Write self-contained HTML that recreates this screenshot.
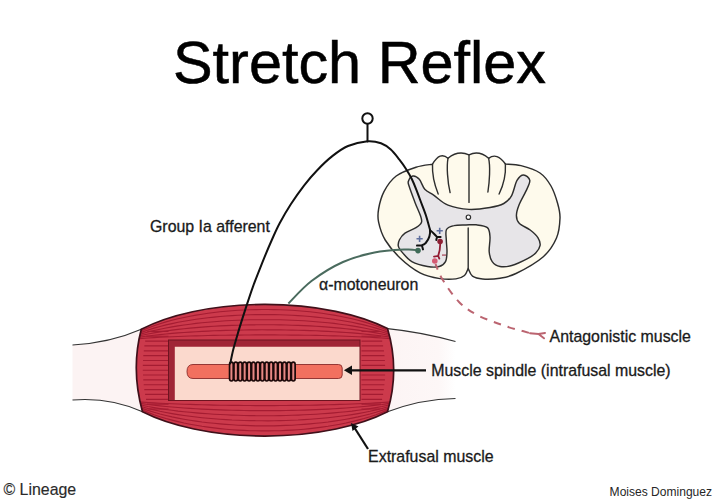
<!DOCTYPE html>
<html><head><meta charset="utf-8">
<style>
html,body{margin:0;padding:0;background:#fff;width:714px;height:500px;overflow:hidden}
svg{display:block}
text{font-family:"Liberation Sans",sans-serif;fill:#1a1a1a}
</style></head>
<body>
<svg width="714" height="500" viewBox="0 0 714 500">
<defs>
  <linearGradient id="tendR" x1="0" x2="1" y1="0" y2="0">
    <stop offset="0" stop-color="#fcf4f4"/>
    <stop offset="0.75" stop-color="#fdf7f7"/>
    <stop offset="1" stop-color="#ffffff"/>
  </linearGradient>
  <clipPath id="lensClip">
    <path id="lensP" d="M141.3,329.3 A158,65.8 0 0 1 387.5,328.6 Q399.9,369.8 387.5,411.8 A158,65.8 0 0 1 142.5,411.8 Q130.7,369.5 141.3,329.3 Z"/>
  </clipPath>
</defs>

<!-- title -->
<text x="173" y="82.8" font-size="59.4" style="fill:#000;stroke:#000;stroke-width:0.5">Stretch Reflex</text>

<!-- tendons -->
<path d="M72.5,345 Q110,343 141.3,329.3 L142.5,411.8 Q110,397 72.5,400 Z" fill="#fcf3f3"/>
<path d="M72.5,345 Q110,343 141.3,329.3" fill="none" stroke="#333" stroke-width="1.1"/>
<path d="M72.5,400 Q110,397 142.5,411.8" fill="none" stroke="#333" stroke-width="1.1"/>
<path d="M387.5,328.6 Q421,332 455.5,341.5 L455.5,398.5 Q421,399 387.5,411.8 Z" fill="url(#tendR)"/>
<path d="M387.5,328.6 Q421,332 455.5,341.5" fill="none" stroke="#333" stroke-width="1.1"/>
<path d="M387.5,411.8 Q421,399 455.5,398.5" fill="none" stroke="#333" stroke-width="1.1"/>

<!-- muscle lens -->
<use href="#lensP" fill="#cc3a4c"/>
<g clip-path="url(#lensClip)" fill="none" stroke="#a51c32" stroke-width="1.15">
  <path d="M147.3,331.4H168.5 M361.5,331.4H379.8 M146.1,336.2H168.5 M361.5,336.2H381.1 M145.2,341.1H168.5 M361.5,341.1H382.2 M144.4,345.9H168.5 M361.5,345.9H383.1 M143.8,350.8H168.5 M361.5,350.8H383.9 M143.3,355.6H168.5 M361.5,355.6H384.5 M143.0,360.5H168.5 M361.5,360.5H384.9 M142.8,365.3H168.5 M361.5,365.3H385.1 M142.8,370.2H168.5 M361.5,370.2H385.2 M143.0,375.0H168.5 M361.5,375.0H385.1 M143.3,379.9H168.5 M361.5,379.9H384.9 M143.7,384.7H168.5 M361.5,384.7H384.4 M144.3,389.6H168.5 M361.5,389.6H383.8 M145.1,394.4H168.5 M361.5,394.4H383.1 M146.0,399.3H168.5 M361.5,399.3H382.1 M147.0,404.1H168.5 M361.5,404.1H381.1 M148.2,409.0H168.5 M361.5,409.0H379.8"/>
  <path d="M136.0,333.3 L142.0,330.5 L148.0,328.0 L154.0,325.7 L160.0,323.7 L166.0,321.9 L172.0,320.3 L178.0,318.8 L184.0,317.5 L190.0,316.2 L196.0,315.1 L202.0,314.2 L208.0,313.3 L214.0,312.5 L220.0,311.8 L226.0,311.2 L232.0,310.7 L238.0,310.3 L244.0,310.0 L250.0,309.7 L256.0,309.6 L262.0,309.5 L268.0,309.5 L274.0,309.6 L280.0,309.7 L286.0,310.0 L292.0,310.3 L298.0,310.7 L304.0,311.2 L310.0,311.8 L316.0,312.5 L322.0,313.3 L328.0,314.2 L334.0,315.1 L340.0,316.2 L346.0,317.5 L352.0,318.8 L358.0,320.3 L364.0,321.9 L370.0,323.7 L376.0,325.7 L382.0,328.0 L388.0,330.5 L394.0,333.3 M136.0,334.4 L142.0,332.1 L148.0,330.0 L154.0,328.1 L160.0,326.5 L166.0,324.9 L172.0,323.6 L178.0,322.3 L184.0,321.2 L190.0,320.2 L196.0,319.3 L202.0,318.5 L208.0,317.7 L214.0,317.1 L220.0,316.5 L226.0,316.0 L232.0,315.6 L238.0,315.3 L244.0,315.0 L250.0,314.8 L256.0,314.6 L262.0,314.6 L268.0,314.6 L274.0,314.6 L280.0,314.8 L286.0,315.0 L292.0,315.3 L298.0,315.6 L304.0,316.0 L310.0,316.5 L316.0,317.1 L322.0,317.7 L328.0,318.5 L334.0,319.3 L340.0,320.2 L346.0,321.2 L352.0,322.3 L358.0,323.6 L364.0,324.9 L370.0,326.5 L376.0,328.1 L382.0,330.0 L388.0,332.1 L394.0,334.4 M136.0,335.5 L142.0,333.7 L148.0,332.0 L154.0,330.5 L160.0,329.2 L166.0,328.0 L172.0,326.9 L178.0,325.9 L184.0,325.0 L190.0,324.2 L196.0,323.4 L202.0,322.8 L208.0,322.2 L214.0,321.7 L220.0,321.2 L226.0,320.8 L232.0,320.5 L238.0,320.2 L244.0,320.0 L250.0,319.8 L256.0,319.7 L262.0,319.7 L268.0,319.7 L274.0,319.7 L280.0,319.8 L286.0,320.0 L292.0,320.2 L298.0,320.5 L304.0,320.8 L310.0,321.2 L316.0,321.7 L322.0,322.2 L328.0,322.8 L334.0,323.4 L340.0,324.2 L346.0,325.0 L352.0,325.9 L358.0,326.9 L364.0,328.0 L370.0,329.2 L376.0,330.5 L382.0,332.0 L388.0,333.7 L394.0,335.5 M136.0,336.7 L142.0,335.2 L148.0,334.0 L154.0,332.9 L160.0,331.9 L166.0,331.0 L172.0,330.1 L178.0,329.4 L184.0,328.7 L190.0,328.1 L196.0,327.6 L202.0,327.1 L208.0,326.6 L214.0,326.3 L220.0,325.9 L226.0,325.6 L232.0,325.4 L238.0,325.2 L244.0,325.0 L250.0,324.9 L256.0,324.8 L262.0,324.7 L268.0,324.7 L274.0,324.8 L280.0,324.9 L286.0,325.0 L292.0,325.2 L298.0,325.4 L304.0,325.6 L310.0,325.9 L316.0,326.3 L322.0,326.6 L328.0,327.1 L334.0,327.6 L340.0,328.1 L346.0,328.7 L352.0,329.4 L358.0,330.1 L364.0,331.0 L370.0,331.9 L376.0,332.9 L382.0,334.0 L388.0,335.2 L394.0,336.7 M136.0,337.8 L142.0,336.8 L148.0,336.0 L154.0,335.2 L160.0,334.6 L166.0,334.0 L172.0,333.4 L178.0,332.9 L184.0,332.5 L190.0,332.1 L196.0,331.7 L202.0,331.4 L208.0,331.1 L214.0,330.8 L220.0,330.6 L226.0,330.4 L232.0,330.2 L238.0,330.1 L244.0,330.0 L250.0,329.9 L256.0,329.9 L262.0,329.8 L268.0,329.8 L274.0,329.9 L280.0,329.9 L286.0,330.0 L292.0,330.1 L298.0,330.2 L304.0,330.4 L310.0,330.6 L316.0,330.8 L322.0,331.1 L328.0,331.4 L334.0,331.7 L340.0,332.1 L346.0,332.5 L352.0,332.9 L358.0,333.4 L364.0,334.0 L370.0,334.6 L376.0,335.2 L382.0,336.0 L388.0,336.8 L394.0,337.8 M136.0,338.9 L142.0,338.4 L148.0,338.0 L154.0,337.6 L160.0,337.3 L166.0,337.0 L172.0,336.7 L178.0,336.5 L184.0,336.2 L190.0,336.0 L196.0,335.9 L202.0,335.7 L208.0,335.5 L214.0,335.4 L220.0,335.3 L226.0,335.2 L232.0,335.1 L238.0,335.1 L244.0,335.0 L250.0,335.0 L256.0,334.9 L262.0,334.9 L268.0,334.9 L274.0,334.9 L280.0,335.0 L286.0,335.0 L292.0,335.1 L298.0,335.1 L304.0,335.2 L310.0,335.3 L316.0,335.4 L322.0,335.5 L328.0,335.7 L334.0,335.9 L340.0,336.0 L346.0,336.2 L352.0,336.5 L358.0,336.7 L364.0,337.0 L370.0,337.3 L376.0,337.6 L382.0,338.0 L388.0,338.4 L394.0,338.9 M136.0,401.6 L142.0,402.1 L148.0,402.5 L154.0,402.9 L160.0,403.2 L166.0,403.5 L172.0,403.8 L178.0,404.0 L184.0,404.2 L190.0,404.4 L196.0,404.6 L202.0,404.8 L208.0,404.9 L214.0,405.1 L220.0,405.2 L226.0,405.3 L232.0,405.4 L238.0,405.4 L244.0,405.5 L250.0,405.5 L256.0,405.6 L262.0,405.6 L268.0,405.6 L274.0,405.6 L280.0,405.5 L286.0,405.5 L292.0,405.4 L298.0,405.4 L304.0,405.3 L310.0,405.2 L316.0,405.1 L322.0,404.9 L328.0,404.8 L334.0,404.6 L340.0,404.4 L346.0,404.2 L352.0,404.0 L358.0,403.8 L364.0,403.5 L370.0,403.2 L376.0,402.9 L382.0,402.5 L388.0,402.1 L394.0,401.6 M136.0,402.7 L142.0,403.6 L148.0,404.5 L154.0,405.2 L160.0,405.9 L166.0,406.5 L172.0,407.0 L178.0,407.5 L184.0,408.0 L190.0,408.4 L196.0,408.8 L202.0,409.1 L208.0,409.4 L214.0,409.6 L220.0,409.9 L226.0,410.1 L232.0,410.2 L238.0,410.4 L244.0,410.5 L250.0,410.6 L256.0,410.6 L262.0,410.6 L268.0,410.6 L274.0,410.6 L280.0,410.6 L286.0,410.5 L292.0,410.4 L298.0,410.2 L304.0,410.1 L310.0,409.9 L316.0,409.6 L322.0,409.4 L328.0,409.1 L334.0,408.8 L340.0,408.4 L346.0,408.0 L352.0,407.5 L358.0,407.0 L364.0,406.5 L370.0,405.9 L376.0,405.2 L382.0,404.5 L388.0,403.6 L394.0,402.7 M136.0,403.8 L142.0,405.2 L148.0,406.5 L154.0,407.6 L160.0,408.6 L166.0,409.5 L172.0,410.3 L178.0,411.1 L184.0,411.7 L190.0,412.3 L196.0,412.9 L202.0,413.4 L208.0,413.8 L214.0,414.2 L220.0,414.5 L226.0,414.8 L232.0,415.1 L238.0,415.3 L244.0,415.5 L250.0,415.6 L256.0,415.7 L262.0,415.7 L268.0,415.7 L274.0,415.7 L280.0,415.6 L286.0,415.5 L292.0,415.3 L298.0,415.1 L304.0,414.8 L310.0,414.5 L316.0,414.2 L322.0,413.8 L328.0,413.4 L334.0,412.9 L340.0,412.3 L346.0,411.7 L352.0,411.1 L358.0,410.3 L364.0,409.5 L370.0,408.6 L376.0,407.6 L382.0,406.5 L388.0,405.2 L394.0,403.8 M136.0,404.9 L142.0,406.8 L148.0,408.5 L154.0,409.9 L160.0,411.3 L166.0,412.5 L172.0,413.6 L178.0,414.6 L184.0,415.5 L190.0,416.3 L196.0,417.0 L202.0,417.7 L208.0,418.3 L214.0,418.8 L220.0,419.2 L226.0,419.6 L232.0,420.0 L238.0,420.2 L244.0,420.5 L250.0,420.6 L256.0,420.7 L262.0,420.8 L268.0,420.8 L274.0,420.7 L280.0,420.6 L286.0,420.5 L292.0,420.2 L298.0,420.0 L304.0,419.6 L310.0,419.2 L316.0,418.8 L322.0,418.3 L328.0,417.7 L334.0,417.0 L340.0,416.3 L346.0,415.5 L352.0,414.6 L358.0,413.6 L364.0,412.5 L370.0,411.3 L376.0,409.9 L382.0,408.5 L388.0,406.8 L394.0,404.9 M136.0,406.0 L142.0,408.4 L148.0,410.4 L154.0,412.3 L160.0,414.0 L166.0,415.5 L172.0,416.9 L178.0,418.1 L184.0,419.2 L190.0,420.2 L196.0,421.1 L202.0,422.0 L208.0,422.7 L214.0,423.3 L220.0,423.9 L226.0,424.4 L232.0,424.8 L238.0,425.2 L244.0,425.4 L250.0,425.6 L256.0,425.8 L262.0,425.8 L268.0,425.8 L274.0,425.8 L280.0,425.6 L286.0,425.4 L292.0,425.2 L298.0,424.8 L304.0,424.4 L310.0,423.9 L316.0,423.3 L322.0,422.7 L328.0,422.0 L334.0,421.1 L340.0,420.2 L346.0,419.2 L352.0,418.1 L358.0,416.9 L364.0,415.5 L370.0,414.0 L376.0,412.3 L382.0,410.4 L388.0,408.4 L394.0,406.0 M136.0,407.1 L142.0,409.9 L148.0,412.4 L154.0,414.7 L160.0,416.7 L166.0,418.5 L172.0,420.1 L178.0,421.6 L184.0,423.0 L190.0,424.2 L196.0,425.3 L202.0,426.3 L208.0,427.1 L214.0,427.9 L220.0,428.6 L226.0,429.2 L232.0,429.7 L238.0,430.1 L244.0,430.4 L250.0,430.7 L256.0,430.8 L262.0,430.9 L268.0,430.9 L274.0,430.8 L280.0,430.7 L286.0,430.4 L292.0,430.1 L298.0,429.7 L304.0,429.2 L310.0,428.6 L316.0,427.9 L322.0,427.1 L328.0,426.3 L334.0,425.3 L340.0,424.2 L346.0,423.0 L352.0,421.6 L358.0,420.1 L364.0,418.5 L370.0,416.7 L376.0,414.7 L382.0,412.4 L388.0,409.9 L394.0,407.1"/>
</g>
<use href="#lensP" fill="none" stroke="#40101a" stroke-width="1.7"/>

<!-- inner rect (intrafusal chamber) -->
<rect x="168.5" y="340" width="191.5" height="60.5" fill="#fbd9cd"/>
<path d="M168.5,400.5 V340 H360 V346.8 H174.8 V400.5 Z" fill="#a02536"/>
<rect x="168.5" y="340" width="191.5" height="60.5" fill="none" stroke="#6e1420" stroke-width="1"/>

<!-- spindle bar -->
<path d="M193,364.5 H338.5 Q342.2,364.5 342.2,368 V375 Q342.2,378.5 338.5,378.5 H193 Q187,378.5 187,371.5 Q187,364.5 193,364.5 Z" fill="#f2705f" stroke="#8a2a2a" stroke-width="0.9"/>

<!-- coil -->
<g fill="#e88884" stroke="#1a0808" stroke-width="1.7">
<rect x="229.55" y="362.2" width="3.7" height="18.8" rx="1.85" ry="2.2"/>
<rect x="233.97" y="362.2" width="3.7" height="18.8" rx="1.85" ry="2.2"/>
<rect x="238.39" y="362.2" width="3.7" height="18.8" rx="1.85" ry="2.2"/>
<rect x="242.81" y="362.2" width="3.7" height="18.8" rx="1.85" ry="2.2"/>
<rect x="247.23" y="362.2" width="3.7" height="18.8" rx="1.85" ry="2.2"/>
<rect x="251.65" y="362.2" width="3.7" height="18.8" rx="1.85" ry="2.2"/>
<rect x="256.07" y="362.2" width="3.7" height="18.8" rx="1.85" ry="2.2"/>
<rect x="260.49" y="362.2" width="3.7" height="18.8" rx="1.85" ry="2.2"/>
<rect x="264.91" y="362.2" width="3.7" height="18.8" rx="1.85" ry="2.2"/>
<rect x="269.33" y="362.2" width="3.7" height="18.8" rx="1.85" ry="2.2"/>
<rect x="273.75" y="362.2" width="3.7" height="18.8" rx="1.85" ry="2.2"/>
<rect x="278.17" y="362.2" width="3.7" height="18.8" rx="1.85" ry="2.2"/>
<rect x="282.59" y="362.2" width="3.7" height="18.8" rx="1.85" ry="2.2"/>
<rect x="287.01" y="362.2" width="3.7" height="18.8" rx="1.85" ry="2.2"/>
<rect x="291.43" y="362.2" width="3.7" height="18.8" rx="1.85" ry="2.2"/>
</g>

<!-- arrows -->
<g stroke="#111" stroke-width="2.2" fill="none">
  <path d="M350,370.3 H426"/>
  <path d="M354,427 L368,449"/>
</g>
<path d="M343.9,370.3 L352,365.5 L352,375.1 Z" fill="#111"/>
<path d="M351,423 L358.5,426.5 L352.5,431 Z" fill="#111"/>

<!-- spinal cord -->
<g stroke="#2e2e2e" stroke-width="1.45" stroke-linejoin="round">
  <path fill="#fefaec" d="M432.5,164.2 Q440,151 448,158.3 Q458,150 469,154.8 Q479,150 488.6,158.3 Q497,152 505.4,164 C508.0,164.3 515.2,164.1 521.0,165.6 C526.8,167.1 535.0,169.6 540.0,173.0 C545.0,176.4 548.1,181.0 551.0,186.0 C553.9,191.0 556.0,197.7 557.5,203.0 C559.0,208.3 560.2,212.2 560.0,218.0 C559.8,223.8 559.3,231.5 556.5,238.0 C553.7,244.5 549.8,251.1 543.0,257.0 C536.2,262.9 523.2,270.0 516.0,273.5 C508.8,277.0 505.6,277.3 500.0,278.2 C494.4,279.1 487.1,279.3 482.5,279.0 C477.9,278.7 474.9,277.9 472.5,276.2 C470.1,274.4 468.9,269.8 468.2,268.5 C467.6,269.7 466.5,273.8 464.5,275.5 C462.5,277.2 460.1,278.4 456.0,278.9 C451.9,279.4 446.0,279.6 440.0,278.6 C434.0,277.6 426.6,276.2 420.0,272.8 C413.4,269.4 406.4,264.0 400.6,258.5 C394.8,253.0 388.9,246.1 385.2,240.0 C381.5,233.9 379.7,227.4 378.6,222.2 C377.5,217.0 377.7,214.1 378.6,209.0 C379.5,203.9 381.2,196.9 384.1,191.4 C387.0,185.9 390.9,180.0 396.2,176.0 C401.5,172.0 409.9,169.2 416.0,167.2 C422.1,165.2 429.8,164.7 432.5,164.2 Z"/>
  <path fill="#e7e5e8" d="M469.0,209.4 C462.0,209.0 453.8,207.5 448.0,205.2 C442.2,202.9 437.9,198.1 434.0,195.4 C430.1,192.7 427.2,191.9 424.8,189.2 C422.4,186.5 421.3,181.5 419.3,179.3 C417.3,177.1 414.5,175.6 412.7,176.0 C410.9,176.4 408.9,179.7 408.3,181.5 C407.8,183.3 408.3,183.5 409.4,187.0 C410.5,190.5 413.2,197.6 415.0,202.4 C416.8,207.2 419.3,212.3 420.4,215.6 C421.5,218.9 422.2,220.2 421.5,222.2 C420.8,224.2 418.8,225.9 416.0,227.7 C413.2,229.5 407.8,231.2 405.0,233.2 C402.2,235.2 400.6,237.6 399.5,239.8 C398.4,242.0 397.8,244.2 398.4,246.4 C398.9,248.6 400.6,250.5 402.8,253.0 C405.0,255.5 407.7,259.4 411.8,261.6 C415.9,263.9 422.9,265.7 427.5,266.5 C432.1,267.3 436.2,267.3 439.2,266.5 C442.2,265.7 444.2,264.1 445.5,261.6 C446.8,259.2 446.9,255.4 447.0,251.8 C447.1,248.2 446.4,243.7 446.3,240.0 C446.2,236.3 445.2,231.9 446.5,229.5 C447.8,227.1 450.8,226.3 454.0,225.6 C457.2,224.8 462.3,225.1 466.0,225.0 C469.7,224.9 472.6,224.4 476.2,224.8 C479.8,225.2 485.1,225.6 487.4,227.6 C489.7,229.6 489.7,233.0 490.0,237.0 C490.3,241.0 488.8,247.7 489.2,251.8 C489.6,255.9 490.4,259.2 492.2,261.6 C494.0,264.1 496.7,265.9 500.0,266.5 C503.3,267.1 507.2,266.8 511.8,265.5 C516.4,264.2 523.5,260.7 527.5,258.6 C531.5,256.5 533.6,255.2 535.7,253.0 C537.8,250.8 539.7,247.9 540.1,245.3 C540.5,242.7 539.5,240.2 537.9,237.6 C536.2,235.0 533.3,232.4 530.2,230.0 C527.1,227.6 521.5,225.7 519.2,223.3 C516.9,220.9 516.4,218.7 516.4,215.6 C516.4,212.5 517.6,208.6 519.2,204.6 C520.8,200.6 524.0,195.4 525.8,191.4 C527.6,187.4 530.2,183.2 529.8,180.4 C529.4,177.7 525.7,174.9 523.6,174.9 C521.5,174.9 519.0,176.9 517.0,180.4 C515.0,183.9 513.7,192.0 511.5,195.8 C509.3,199.7 507.4,201.6 503.8,203.5 C500.2,205.4 495.8,206.5 490.0,207.5 C484.2,208.5 476.0,209.8 469.0,209.4 Z"/>
</g>
<g stroke="#2e2e2e" stroke-width="1.4" fill="none" stroke-linecap="round">
  <path d="M432.5,164.2 C432,175 435,186 438.2,194"/>
  <path d="M448,158.3 C446.5,166 447.5,182 450.1,192.6"/>
  <path d="M469,154.8 V202.4"/>
  <path d="M488.6,158.3 C490.5,166 489.5,182 487.9,192"/>
  <path d="M505.4,164 C506,175 503,186 499.1,194"/>
  <path d="M468.2,228 V268.5"/>
</g>
<circle cx="468.4" cy="217.2" r="2.2" fill="#fff" stroke="#2e2e2e" stroke-width="1.2"/>

<!-- afferent neuron -->
<g stroke="#111" stroke-width="2" fill="none" stroke-linecap="round">
  <circle cx="367.5" cy="118.5" r="5.2" fill="#fff"/>
  <path d="M367.5,124 V141.5"/>
  <path d="M230.3,363.4 C230.8,361.0 232.0,354.5 233.4,349.1 C234.8,343.7 236.7,337.4 238.6,330.9 C240.5,324.4 242.7,317.5 245.1,310.1 C247.5,302.8 250.1,294.6 252.9,286.8 C255.7,279.0 258.9,271.2 262.0,263.4 C265.1,255.6 268.8,246.7 271.8,240.0 C274.8,233.3 276.6,228.9 279.8,223.0 C283.0,217.1 286.8,210.5 290.8,204.3 C294.8,198.1 299.6,191.3 304.0,185.6 C308.4,179.9 312.4,175.1 317.2,170.2 C322.0,165.2 327.5,159.9 332.6,155.9 C337.7,151.9 342.2,148.4 348.0,146.0 C353.8,143.6 362.0,141.8 367.5,141.3 C373.0,140.9 377.1,141.9 381.0,143.3 C384.9,144.7 387.8,146.9 390.8,149.6 C393.8,152.3 396.6,156.1 399.2,159.4 C401.8,162.7 404.1,165.9 406.2,169.2 C408.3,172.5 410.2,175.7 411.8,179.0 C413.4,182.3 414.6,185.3 416.0,188.8 C417.4,192.3 418.6,195.6 420.2,200.0 C421.8,204.4 424.2,210.0 425.8,215.0 C427.4,220.0 429.3,227.3 430.0,229.8"/>
  <path d="M430,229.8 C430.5,234 429.5,238.5 425.7,243 C424.5,244.3 423,245 421.9,245.3 M417,245.6 L421.9,245.3 L423,249.4"/>
  <path d="M430.4,230.5 C432.5,232 434.5,234.5 437,236.9 L440.6,236.9 M437,236.9 L436.3,240"/>
</g>

<!-- motoneuron -->
<path d="M288.4,303.5 C292.2,299.8 302.4,287.9 311.5,281.0 C320.6,274.1 332.5,266.7 343.0,262.0 C353.5,257.3 364.0,254.7 374.5,252.6 C385.0,250.5 398.8,249.9 406.0,249.5 C413.2,249.1 415.7,250.2 417.6,250.4" fill="none" stroke="#4a6b5e" stroke-width="2"/>
<circle cx="418" cy="250.6" r="2.8" fill="#3f6b58"/>

<!-- interneuron -->
<path d="M440.1,241.5 C440.5,246 439.5,252 438.2,255.9 M434,256.6 L438.2,255.9 L439.3,258.6" fill="none" stroke="#931c32" stroke-width="1.8" stroke-linecap="round"/>
<circle cx="440.1" cy="241.5" r="2.8" fill="#8e1f33"/>
<circle cx="434.8" cy="261" r="2.8" fill="#d45a72"/>
<path d="M435.5,264.0 C436.7,266.6 438.6,273.2 442.5,279.5 C446.4,285.8 452.9,295.9 459.0,302.0 C465.1,308.1 470.7,311.7 478.8,315.8 C486.9,319.9 500.3,324.3 507.6,326.8 C514.9,329.3 519.0,329.9 522.7,331.0 C526.4,332.1 528.8,332.8 530.0,333.2" fill="none" stroke="#bb6470" stroke-width="2" stroke-dasharray="7.5 7" stroke-dashoffset="1.5"/>
<path d="M530,333.2 L538.5,334 L545,333 M538.5,334 L544,338.3" fill="none" stroke="#bb6470" stroke-width="2" stroke-linecap="round"/>

<!-- signs -->
<g stroke="#5f6f9f" stroke-width="1.6">
  <path d="M416.5,238.8 H422.7 M419.6,235.7 V241.9"/>
  <path d="M436.6,230.8 H442.8 M439.7,227.7 V233.9"/>
</g>
<path d="M442,255.1 H446" stroke="#b06070" stroke-width="1.5"/>

<!-- labels -->
<g style="stroke:#1a1a1a;stroke-width:0.3">
<text x="150" y="231.8" font-size="15.9">Group Ia afferent</text>
<text x="319" y="290.4" font-size="15.9">α-motoneuron</text>
<text x="549.6" y="341.7" font-size="15.9">Antagonistic muscle</text>
<text x="431.3" y="376.2" font-size="15.9">Muscle spindle (intrafusal muscle)</text>
<text x="368.1" y="461.8" font-size="15.9">Extrafusal muscle</text>
<text x="3.5" y="495" font-size="15.9" style="fill:#2a2a2a;stroke:#2a2a2a;stroke-width:0.15">© Lineage</text>
</g>
<text x="609.6" y="496.3" font-size="12.05" style="fill:#262626">Moises Dominguez</text>
</svg>
</body></html>
